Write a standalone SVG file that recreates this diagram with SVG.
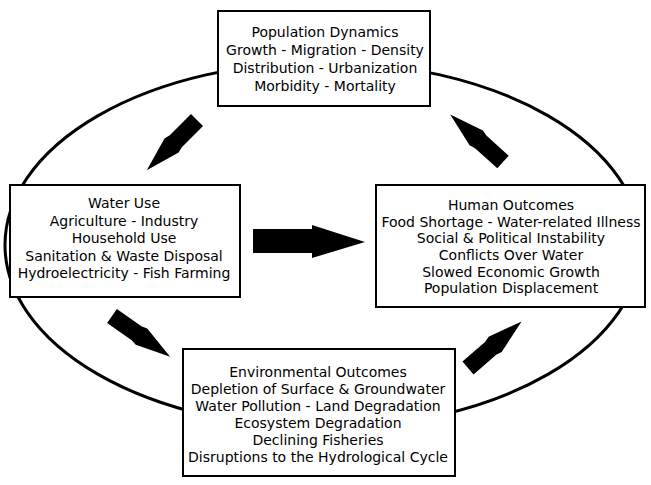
<svg xmlns="http://www.w3.org/2000/svg" xmlns:xlink="http://www.w3.org/1999/xlink" width="651" height="485" viewBox="0 0 651 485">
<style>
.box{fill:#fff;stroke:#000;stroke-width:2}
.t{font-family:"DejaVu Sans","Liberation Sans",sans-serif;font-size:14px;fill:#000;text-anchor:middle}
.arr{fill:#000}
</style>
<defs>
<path id="pen" d="M0,-8.5 L30,-8.5 L36,-10 L71,0 L36,10 L30,8.5 L0,8.5 Z"/>
</defs>
<rect width="651" height="485" fill="#fff"/>
<g id="connectors">
<ellipse cx="323" cy="245" rx="318" ry="183" fill="none" stroke="#000" stroke-width="3"/>
<use xlink:href="#pen" class="arr" transform="translate(197,120) rotate(135)"/>
<use xlink:href="#pen" class="arr" transform="translate(503,162) rotate(-138)"/>
<use xlink:href="#pen" class="arr" transform="translate(112,316) rotate(35)"/>
<use xlink:href="#pen" class="arr" transform="translate(468,368) rotate(-41)"/>
<path class="arr" d="M253,229 L312,229 L312,225 L365,242 L312,258 L312,253 L253,253 Z"/>
</g>
<g id="population">
<rect class="box" x="218" y="11" width="212" height="95"/>
<text class="t" x="325" y="37">Population Dynamics</text>
<text class="t" x="325" y="55">Growth - Migration - Density</text>
<text class="t" x="325" y="73">Distribution - Urbanization</text>
<text class="t" x="325" y="91">Morbidity - Mortality</text>
</g>
<g id="wateruse">
<rect class="box" x="10" y="185" width="230" height="112"/>
<text class="t" x="124" y="208">Water Use</text>
<text class="t" x="124" y="226">Agriculture - Industry</text>
<text class="t" x="124" y="243">Household Use</text>
<text class="t" x="124" y="261">Sanitation &amp; Waste Disposal</text>
<text class="t" x="124" y="278">Hydroelectricity - Fish Farming</text>
</g>
<g id="human">
<rect class="box" x="376" y="185" width="269" height="122"/>
<text class="t" x="511" y="210">Human Outcomes</text>
<text class="t" x="511" y="227">Food Shortage - Water-related Illness</text>
<text class="t" x="511" y="243">Social &amp; Political Instability</text>
<text class="t" x="511" y="260">Conflicts Over Water</text>
<text class="t" x="511" y="277">Slowed Economic Growth</text>
<text class="t" x="511" y="293">Population Displacement</text>
</g>
<g id="environment">
<rect class="box" x="183" y="349" width="272" height="127"/>
<text class="t" x="318" y="377">Environmental Outcomes</text>
<text class="t" x="318" y="394">Depletion of Surface &amp; Groundwater</text>
<text class="t" x="318" y="411">Water Pollution - Land Degradation</text>
<text class="t" x="318" y="428">Ecosystem Degradation</text>
<text class="t" x="318" y="445">Declining Fisheries</text>
<text class="t" x="318" y="462">Disruptions to the Hydrological Cycle</text>
</g>
</svg>
